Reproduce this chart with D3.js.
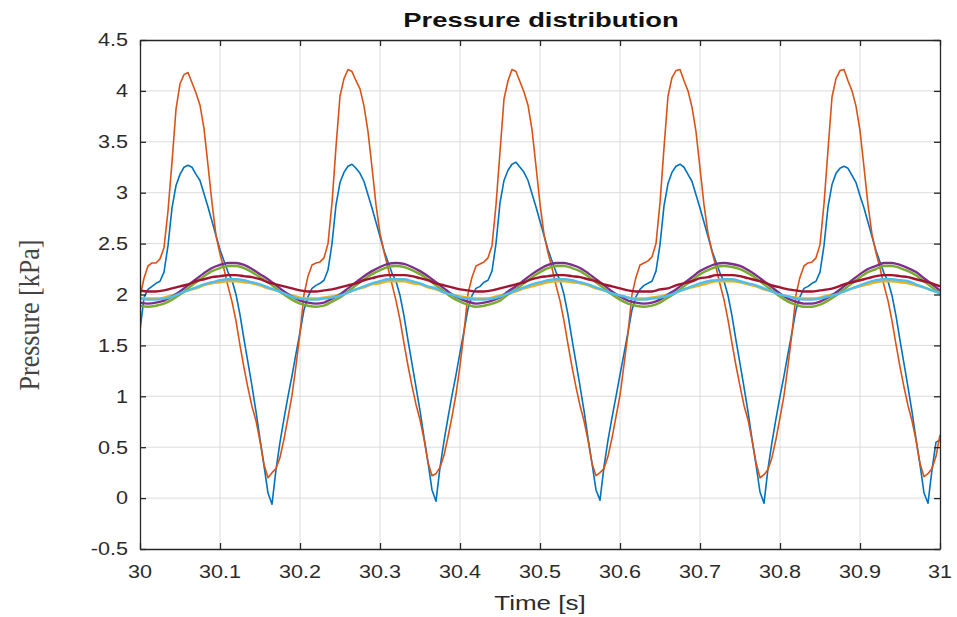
<!DOCTYPE html>
<html><head><meta charset="utf-8">
<script src="https://cdn.jsdelivr.net/npm/d3@7"></script>
<style>body{margin:0;background:#fff}</style>
</head><body>
<svg id="c" width="957" height="617"></svg>
<script>
// ---------- data ----------
const xTickValues = [30,30.1,30.2,30.3,30.4,30.5,30.6,30.7,30.8,30.9,31];
const xTickLabels = ["30","30.1","30.2","30.3","30.4","30.5","30.6","30.7","30.8","30.9","31"];
const yTickValues = [-0.5,0,0.5,1,1.5,2,2.5,3,3.5,4,4.5];
const yTickLabels = ["-0.5","0","0.5","1","1.5","2","2.5","3","3.5","4","4.5"];
const tStart = 30;
const fastStep = 0.005;  // s, sampling of the two large-swing sensors
const slowStep = 0.01;   // s, sampling of the five small-swing sensors

const sensor1 = [ // blue
1.65,1.97,2.05,2.08,2.11,2.13,2.22,2.48,2.85,3.07,3.18,3.25,3.27,3.25,3.18,3.12,2.99,2.86,2.72,2.58,2.44,2.33,2.22,2.14,2.00,1.80,1.56,1.33,1.10,0.85,0.58,0.32,0.05,-0.06,0.28,0.55,0.78,1.00,1.20,1.42,1.63,
1.85,1.98,2.06,2.09,2.11,2.14,2.24,2.50,2.88,3.10,3.20,3.26,3.28,3.24,3.19,3.11,2.98,2.85,2.71,2.57,2.43,2.32,2.21,2.13,1.99,1.79,1.55,1.32,1.09,0.86,0.60,0.35,0.08,-0.03,0.30,0.56,0.79,1.01,1.21,1.43,1.64,
1.86,1.99,2.06,2.08,2.12,2.14,2.23,2.50,2.90,3.12,3.22,3.28,3.30,3.25,3.20,3.12,2.99,2.86,2.72,2.58,2.44,2.33,2.22,2.14,2.00,1.80,1.56,1.33,1.10,0.86,0.59,0.34,0.08,-0.02,0.31,0.57,0.79,1.00,1.21,1.42,1.63,
1.85,1.98,2.05,2.09,2.11,2.13,2.23,2.49,2.87,3.09,3.20,3.26,3.28,3.25,3.18,3.11,2.98,2.85,2.71,2.57,2.43,2.32,2.21,2.13,1.99,1.79,1.55,1.32,1.09,0.85,0.58,0.33,0.06,-0.05,0.29,0.55,0.78,1.00,1.20,1.42,1.63,
1.85,1.98,2.06,2.08,2.11,2.13,2.22,2.48,2.86,3.08,3.19,3.24,3.26,3.24,3.17,3.10,2.97,2.85,2.71,2.57,2.43,2.32,2.21,2.13,1.99,1.79,1.55,1.32,1.09,0.85,0.58,0.33,0.05,-0.05,0.28,0.55,0.57];

const sensor2 = [ // orange
1.98,2.16,2.28,2.31,2.31,2.35,2.46,2.82,3.30,3.82,4.07,4.16,4.18,4.08,3.98,3.86,3.63,3.27,2.90,2.58,2.40,2.25,2.08,1.93,1.74,1.50,1.28,1.08,0.90,0.76,0.56,0.33,0.20,0.25,0.29,0.40,0.58,0.79,1.01,1.30,1.62,
2.00,2.18,2.29,2.31,2.32,2.36,2.50,2.90,3.45,3.95,4.12,4.21,4.19,4.10,4.02,3.85,3.60,3.25,2.88,2.60,2.42,2.26,2.10,1.94,1.75,1.52,1.30,1.10,0.92,0.77,0.58,0.35,0.22,0.24,0.30,0.42,0.60,0.80,1.02,1.30,1.63,
2.01,2.17,2.28,2.30,2.32,2.36,2.48,2.88,3.40,3.92,4.10,4.21,4.19,4.09,3.99,3.86,3.62,3.26,2.89,2.59,2.41,2.26,2.09,1.94,1.74,1.51,1.29,1.09,0.91,0.76,0.57,0.34,0.22,0.25,0.29,0.41,0.59,0.80,1.01,1.31,1.62,
2.00,2.17,2.29,2.31,2.33,2.37,2.50,2.90,3.44,3.95,4.13,4.20,4.21,4.10,4.00,3.84,3.60,3.24,2.88,2.60,2.42,2.27,2.10,1.95,1.75,1.52,1.30,1.10,0.91,0.77,0.57,0.35,0.20,0.23,0.28,0.40,0.58,0.79,1.01,1.30,1.62,
2.00,2.17,2.28,2.31,2.32,2.36,2.49,2.89,3.42,3.94,4.12,4.20,4.21,4.10,4.00,3.85,3.61,3.25,2.88,2.59,2.41,2.26,2.09,1.94,1.74,1.51,1.29,1.09,0.91,0.76,0.57,0.34,0.21,0.24,0.29,0.41,0.62];

const sensor3 = [ // yellow
1.97,1.96,1.96,1.97,1.99,2.01,2.04,2.06,2.09,2.11,
2.12,2.13,2.13,2.12,2.11,2.09,2.06,2.04,2.01,1.99,
1.97,1.96,1.96,1.97,1.98,2.00,2.02,2.05,2.07,2.10,
2.11,2.13,2.13,2.13,2.11,2.10,2.07,2.05,2.02,2.00,
1.98,1.97,1.96,1.96,1.97,1.99,2.01,2.03,2.06,2.08,
2.10,2.12,2.13,2.13,2.12,2.11,2.09,2.06,2.04,2.01,
1.99,1.97,1.96,1.96,1.97,1.98,2.00,2.02,2.05,2.07,
2.09,2.11,2.13,2.13,2.13,2.12,2.10,2.08,2.05,2.03,
2.00,1.98,1.97,1.96,1.96,1.97,1.99,2.01,2.03,2.06,
2.08,2.10,2.12,2.13,2.13,2.12,2.11,2.09,2.07,2.04,
2.02];

const sensor4 = [ // purple
1.92,1.91,1.92,1.94,1.98,2.03,2.09,2.15,2.21,2.26,
2.29,2.31,2.31,2.29,2.25,2.20,2.15,2.09,2.03,1.98,
1.94,1.92,1.91,1.92,1.96,2.00,2.06,2.12,2.18,2.23,
2.27,2.30,2.31,2.30,2.27,2.23,2.18,2.12,2.06,2.00,
1.96,1.93,1.91,1.92,1.94,1.97,2.03,2.08,2.14,2.20,
2.25,2.29,2.31,2.31,2.29,2.26,2.21,2.15,2.09,2.03,
1.98,1.94,1.92,1.91,1.92,1.95,2.00,2.05,2.11,2.17,
2.23,2.27,2.30,2.31,2.30,2.28,2.24,2.19,2.13,2.07,
2.01,1.96,1.93,1.91,1.91,1.93,1.97,2.02,2.08,2.14,
2.20,2.25,2.28,2.31,2.31,2.29,2.26,2.22,2.16,2.10,
2.04];

const sensor5 = [ // green
1.89,1.88,1.89,1.91,1.95,2.00,2.06,2.12,2.18,2.23,
2.26,2.28,2.28,2.26,2.22,2.17,2.12,2.06,2.00,1.95,
1.91,1.89,1.88,1.89,1.93,1.97,2.03,2.09,2.15,2.20,
2.24,2.27,2.28,2.27,2.24,2.20,2.15,2.09,2.03,1.97,
1.93,1.90,1.88,1.89,1.91,1.94,2.00,2.05,2.11,2.17,
2.22,2.26,2.28,2.28,2.26,2.23,2.18,2.12,2.06,2.00,
1.95,1.91,1.89,1.88,1.89,1.92,1.97,2.02,2.08,2.14,
2.20,2.24,2.27,2.28,2.27,2.25,2.21,2.16,2.10,2.04,
1.98,1.93,1.90,1.88,1.88,1.90,1.94,1.99,2.05,2.11,
2.17,2.22,2.25,2.28,2.28,2.26,2.23,2.19,2.13,2.07,
2.01];

const sensor6 = [ // light blue
1.96,1.95,1.95,1.96,1.98,2.01,2.04,2.07,2.10,2.12,
2.14,2.15,2.15,2.14,2.12,2.10,2.07,2.04,2.01,1.98,
1.96,1.95,1.95,1.96,1.97,1.99,2.02,2.05,2.08,2.11,
2.13,2.15,2.15,2.15,2.13,2.11,2.08,2.06,2.02,2.00,
1.97,1.96,1.95,1.95,1.96,1.98,2.01,2.04,2.07,2.10,
2.12,2.14,2.15,2.15,2.14,2.12,2.10,2.07,2.04,2.01,
1.99,1.97,1.95,1.95,1.96,1.97,1.99,2.02,2.05,2.08,
2.11,2.13,2.14,2.15,2.15,2.13,2.11,2.09,2.06,2.03,
2.00,1.98,1.96,1.95,1.95,1.96,1.98,2.00,2.03,2.06,
2.09,2.12,2.14,2.15,2.15,2.14,2.13,2.10,2.07,2.04,
2.01];

const sensor7 = [ // dark red
2.04,2.03,2.03,2.04,2.06,2.08,2.10,2.13,2.15,2.17,
2.18,2.19,2.19,2.18,2.17,2.15,2.12,2.10,2.08,2.06,
2.04,2.03,2.03,2.04,2.05,2.07,2.09,2.11,2.14,2.16,
2.18,2.19,2.19,2.19,2.18,2.16,2.14,2.11,2.09,2.07,
2.05,2.04,2.03,2.03,2.04,2.06,2.08,2.10,2.12,2.15,
2.17,2.18,2.19,2.19,2.18,2.17,2.15,2.13,2.10,2.08,
2.06,2.04,2.03,2.03,2.03,2.05,2.06,2.09,2.11,2.13,
2.16,2.17,2.19,2.19,2.19,2.18,2.16,2.14,2.12,2.09,
2.07,2.05,2.04,2.03,2.03,2.04,2.05,2.07,2.10,2.12,
2.14,2.16,2.18,2.19,2.19,2.18,2.17,2.15,2.13,2.11,
2.08];

const seriesColors = ["#0072BD","#D95319","#EDB120","#7E2F8E","#77AC30","#4DBEEE","#A2142F"];

// ---------- layout ----------
const svg = d3.select("#c");
const m = {left:140, right:940, top:40, bottom:549};
const x = d3.scaleLinear().domain([30,31]).range([m.left, m.right]);
const y = d3.scaleLinear().domain([-0.5,4.5]).range([m.bottom, m.top]);
const axisColor = "#262626", textColor = "#2b2b2b";
const sx = 1.2; // horizontal stretch of lettering in the reference

// grid
const grid = svg.append("g");
grid.selectAll(".gx").data(xTickValues.slice(1,-1)).join("line")
  .attr("x1", d=>x(d)).attr("x2", d=>x(d)).attr("y1", m.top).attr("y2", m.bottom)
  .attr("stroke", "#dcdcdc").attr("stroke-width", 1);
grid.selectAll(".gy").data(yTickValues.slice(1,-1)).join("line")
  .attr("y1", d=>y(d)).attr("y2", d=>y(d)).attr("x1", m.left).attr("x2", m.right)
  .attr("stroke", "#dcdcdc").attr("stroke-width", 1);

// series
svg.append("clipPath").attr("id","clp").append("rect")
  .attr("x", m.left).attr("y", m.top).attr("width", m.right-m.left).attr("height", m.bottom-m.top);
const plot = svg.append("g").attr("clip-path","url(#clp)");

const allSeries = [
  {vals: sensor1, step: fastStep, color: seriesColors[0], w: 1.6, curve: d3.curveLinear},
  {vals: sensor2, step: fastStep, color: seriesColors[1], w: 1.6, curve: d3.curveLinear},
  {vals: sensor3, step: slowStep, color: seriesColors[2], w: 2.4, curve: d3.curveMonotoneX},
  {vals: sensor4, step: slowStep, color: seriesColors[3], w: 2.4, curve: d3.curveMonotoneX},
  {vals: sensor5, step: slowStep, color: seriesColors[4], w: 2.4, curve: d3.curveMonotoneX},
  {vals: sensor6, step: slowStep, color: seriesColors[5], w: 2.4, curve: d3.curveMonotoneX},
  {vals: sensor7, step: slowStep, color: seriesColors[6], w: 2.4, curve: d3.curveMonotoneX}
];
allSeries.forEach(s => {
  const line = d3.line().x((d,i)=>x(tStart + i*s.step)).y(d=>y(d)).curve(s.curve);
  plot.append("path").datum(s.vals).attr("d", line)
    .attr("fill","none").attr("stroke", s.color).attr("stroke-width", s.w)
    .attr("stroke-linejoin","round");
});

// axes (box with inward ticks on all sides)
const tl = 6;
const xb = d3.axisBottom(x).tickValues(xTickValues).tickSizeInner(-tl).tickSizeOuter(0).tickFormat("");
const xt = d3.axisTop(x).tickValues(xTickValues).tickSizeInner(-tl).tickSizeOuter(0).tickFormat("");
const yl = d3.axisLeft(y).tickValues(yTickValues).tickSizeInner(-tl).tickSizeOuter(0).tickFormat("");
const yr = d3.axisRight(y).tickValues(yTickValues).tickSizeInner(-tl).tickSizeOuter(0).tickFormat("");
[[xb,`translate(0,${m.bottom})`],[xt,`translate(0,${m.top})`],[yl,`translate(${m.left},0)`],[yr,`translate(${m.right},0)`]]
.forEach(([ax,tr]) => {
  const g = svg.append("g").attr("transform", tr).call(ax);
  g.selectAll("path,line").attr("stroke", axisColor).attr("stroke-width", 1.3);
  g.selectAll("text").remove();
});

function stretchedText(xp, yp, str, opts) {
  const t = svg.append("text")
    .attr("transform", `translate(${xp},${yp}) scale(${opts.sx||sx},1)` + (opts.rot ? ` rotate(${opts.rot})` : ""))
    .attr("text-anchor", opts.anchor || "middle")
    .attr("font-family", opts.family || "Liberation Sans, Arial, sans-serif")
    .attr("font-size", opts.size)
    .attr("font-weight", opts.weight || "normal")
    .attr("fill", opts.fill || textColor)
    .text(str);
  if (opts.dy) t.attr("dy", opts.dy);
  return t;
}

// tick labels
xTickValues.forEach((v,i) => stretchedText(x(v), 578, xTickLabels[i], {size:18}));
yTickValues.forEach((v,i) => stretchedText(128, y(v), yTickLabels[i], {size:18, anchor:"end", dy:"0.35em"}));

// titles
stretchedText(541, 27, "Pressure distribution", {size:20, weight:"bold", sx:1.37, fill:"#111"});
stretchedText(540, 610, "Time [s]", {size:20, sx:1.3});
stretchedText(39, 315, "Pressure [kPa]", {size:26, family:"Liberation Serif, Times New Roman, serif", rot:-90, sx:1.15, fill:"#444"});
</script>
</body></html>
